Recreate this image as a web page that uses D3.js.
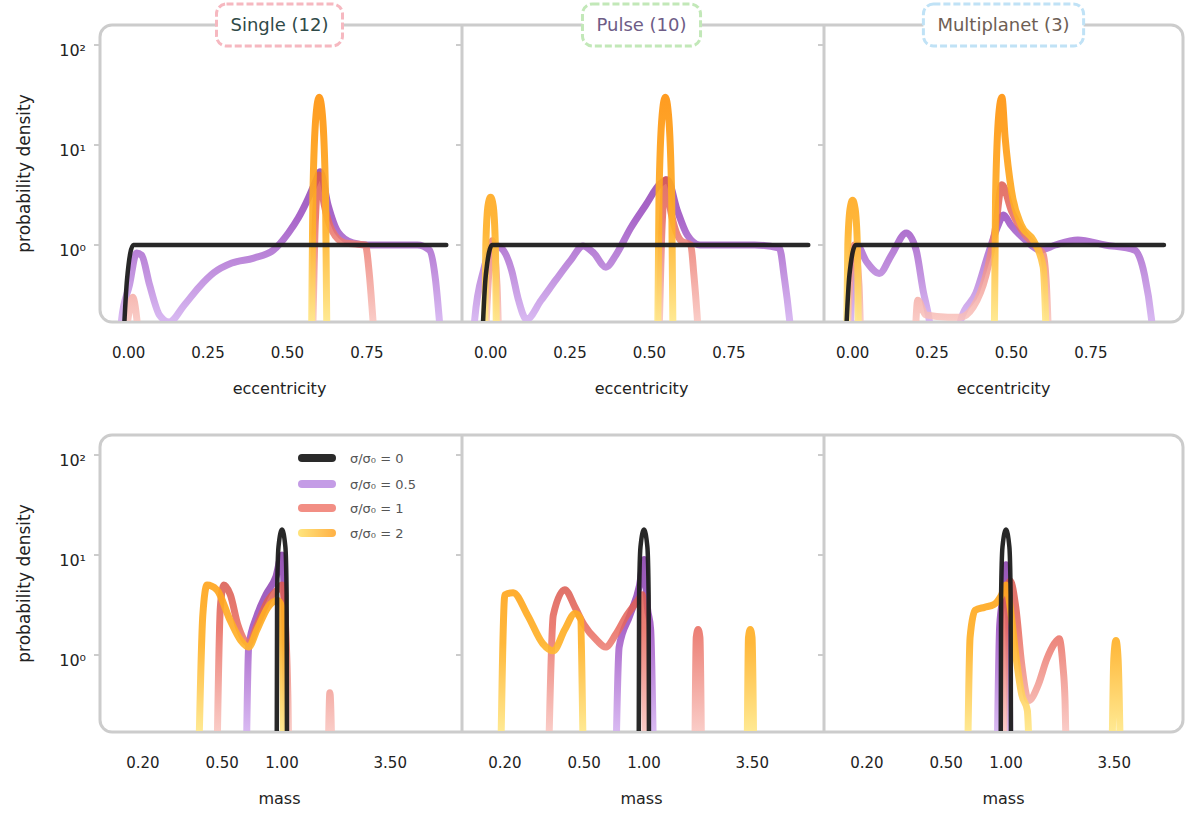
<!DOCTYPE html>
<html><head><meta charset="utf-8">
<script src="https://cdn.jsdelivr.net/npm/d3@7"></script>
<style>body{margin:0;background:#fff} svg{font-family:"DejaVu Sans",sans-serif}</style>
</head><body><svg id="c" width="1200" height="816"></svg>
<script>
// ---------- labels ----------
const panelTitles = ["Single (12)", "Pulse (10)", "Multiplanet (3)"];
const seriesNames = ["σ/σ₀ = 0", "σ/σ₀ = 0.5", "σ/σ₀ = 1", "σ/σ₀ = 2"];
const eccTicks = [0, 0.25, 0.5, 0.75];
const eccTickLabels = ["0.00", "0.25", "0.50", "0.75"];
const ratioTicks = [0.2, 0.5, 1, 3.5];
const ratioTickLabels = ["0.20", "0.50", "1.00", "3.50"];
const densityTicks = [100, 10, 1];
const densityTickLabels = ["10²", "10¹", "10⁰"];
const topXLabel = "eccentricity";
const bottomXLabel = "mass";
const yLabel = "probability density";

// ---------- top row: eccentricity densities [e, density] (0 = none) ----------
const eccSingleBlack  = [[-0.02,0],[-0.005,0.45],[0.015,1],[0.2,1],[0.4,1],[0.6,1],[0.8,1],[1.0,1]];
const eccSinglePurple = [[-0.03,0],[-0.022,0.18],[0.003,0.4],[0.025,0.83],[0.041,0.79],[0.066,0.4],[0.097,0.2],[0.128,0.17],[0.175,0.25],[0.222,0.38],[0.269,0.53],[0.325,0.66],[0.394,0.74],[0.456,0.89],[0.503,1.32],[0.534,1.86],[0.566,2.95],[0.591,4.5],[0.603,5.4],[0.628,2.5],[0.659,1.35],[0.706,1.05],[0.753,1.0],[0.909,1.0],[0.947,0.89],[0.966,0.45],[0.978,0.18],[0.99,0]];
const eccSingleRed    = [[-0.02,0],[0.0,0.2],[0.013,0.3],[0.028,0.16],[0.04,0],[0.575,0],[0.588,1.8],[0.6,5],[0.615,2.6],[0.64,1.4],[0.68,1.05],[0.745,1.0],[0.758,0.5],[0.768,0.2],[0.78,0]];
const eccSingleOrange = [[0.575,0],[0.58,3],[0.59,20],[0.6,30],[0.61,20],[0.62,3],[0.625,0]];

const eccPulseBlack  = [[-0.03,0],[-0.015,0.5],[0.005,1],[0.2,1],[0.4,1],[0.6,1],[0.8,1],[1.0,1]];
const eccPulsePurple = [[-0.06,0],[-0.05,0.18],[-0.022,0.56],[0.009,1.0],[0.034,0.93],[0.066,0.56],[0.088,0.28],[0.113,0.18],[0.159,0.28],[0.206,0.45],[0.253,0.71],[0.291,0.98],[0.325,0.83],[0.363,0.6],[0.394,0.79],[0.441,1.48],[0.488,2.5],[0.534,4.1],[0.556,4.5],[0.588,2.2],[0.619,1.26],[0.659,1.0],[0.831,1.0],[0.909,0.93],[0.925,0.46],[0.941,0.18],[0.955,0]];
const eccPulseRed    = [[-0.02,0],[-0.006,0.5],[0.005,1.1],[0.02,0.4],[0.03,0],[0.525,0],[0.54,1.6],[0.55,4.5],[0.568,2.1],[0.6,1.1],[0.63,1.0],[0.64,0.5],[0.65,0.2],[0.66,0]];
const eccPulseOrange = [[-0.02,0],[-0.015,1],[-0.008,2.5],[0.0,3],[0.008,2.5],[0.015,1],[0.02,0],[0.525,0],[0.53,3],[0.54,20],[0.55,30],[0.56,20],[0.57,3],[0.575,0]];

const eccMultiBlack  = [[-0.025,0],[-0.01,0.5],[0.01,1],[0.2,1],[0.4,1],[0.6,1],[0.8,1],[0.98,1]];
const eccMultiPurple = [[-0.01,0],[0.0,0.5],[0.013,1.0],[0.044,0.68],[0.084,0.52],[0.122,0.79],[0.169,1.32],[0.2,0.89],[0.222,0.35],[0.241,0.18],[0.26,0],[0.32,0],[0.341,0.18],[0.388,0.33],[0.428,0.83],[0.459,1.6],[0.475,2.0],[0.497,1.6],[0.544,1.12],[0.591,0.89],[0.638,1.0],[0.709,1.12],[0.794,1.0],[0.888,0.89],[0.919,0.5],[0.941,0.18],[0.955,0]];
const eccMultiRed    = [[-0.02,0],[-0.006,0.6],[0.005,1],[0.02,0.4],[0.03,0],[0.19,0],[0.205,0.28],[0.23,0.2],[0.3,0.19],[0.34,0.19],[0.38,0.24],[0.42,0.5],[0.45,1.5],[0.47,4],[0.5,2.2],[0.54,1.3],[0.58,0.95],[0.6,0.8],[0.61,0.4],[0.62,0]];
const eccMultiOrange = [[-0.02,0],[-0.015,1],[-0.008,2.3],[0.0,2.8],[0.008,2.3],[0.015,1],[0.02,0],[0.445,0],[0.45,3],[0.46,20],[0.47,30],[0.48,12],[0.5,3.5],[0.53,1.6],[0.57,1.1],[0.6,0.6],[0.612,0]];

// ---------- bottom row: mass densities [m, density] ----------
const ratSingleBlack  = [[0.94,0],[0.945,4],[0.96,12],[1.0,18],[1.04,12],[1.055,4],[1.06,0]];
const ratSinglePurple = [[0.66,0],[0.68,1.2],[0.75,2.5],[0.83,4],[0.93,6],[1.0,10],[1.03,3],[1.06,0]];
const ratSingleRed    = [[0.47,0],[0.49,3],[0.51,5],[0.55,4],[0.6,2],[0.68,1.3],[0.75,2],[0.85,3.5],[0.95,4.5],[1.0,5],[1.03,3],[1.07,0.4],[1.09,0],[1.69,0],[1.74,0.42],[1.79,0]];
const ratSingleOrange = [[0.38,0],[0.4,2.5],[0.42,5],[0.47,4.5],[0.55,2.2],[0.62,1.4],[0.68,1.2],[0.75,1.8],[0.85,3],[0.95,3.5],[1.0,3],[1.02,0]];

const ratPulseBlack  = [[0.94,0],[0.945,4],[0.96,12],[1.0,18],[1.04,12],[1.055,4],[1.06,0]];
const ratPulsePurple = [[0.72,0],[0.75,1.2],[0.85,2.5],[0.95,5],[1.0,9],[1.04,3],[1.08,1.8],[1.12,0]];
const ratPulseRed    = [[0.33,0],[0.35,2.5],[0.4,4.5],[0.45,3],[0.5,2],[0.58,1.4],[0.64,1.2],[0.72,1.6],[0.82,2.5],[0.93,3.5],[0.98,4],[1.0,2],[1.02,0],[1.79,0],[1.83,1.5],[1.87,1.8],[1.91,1.5],[1.95,0]];
const ratPulseOrange = [[0.19,0],[0.2,4],[0.22,4.2],[0.26,2.5],[0.31,1.3],[0.35,1.1],[0.4,1.8],[0.45,2.6],[0.48,2.3],[0.5,0],[3.28,0],[3.35,1.5],[3.42,1.8],[3.49,1.5],[3.57,0]];

const ratMultiBlack  = [[0.94,0],[0.945,4],[0.96,12],[1.0,18],[1.04,12],[1.055,4],[1.06,0]];
const ratMultiPurple = [[0.9,0],[0.93,2],[0.97,4],[1.0,8],[1.03,3],[1.05,0]];
const ratMultiRed    = [[0.97,0],[0.99,3],[1.05,5.5],[1.12,3],[1.2,0.8],[1.3,0.35],[1.45,0.5],[1.6,0.9],[1.75,1.3],[1.85,1.45],[1.93,0.8],[1.98,0.35],[2.02,0]];
const ratMultiOrange = [[0.64,0],[0.66,1.5],[0.7,2.8],[0.78,3],[0.87,3.2],[0.95,4],[1.0,5],[1.05,3],[1.12,1],[1.2,0.4],[1.28,0.28],[1.33,0],[3.38,0],[3.48,0.9],[3.57,1.4],[3.66,0.9],[3.77,0]];

const topData = [
  [eccSinglePurple, eccSingleRed, eccSingleOrange, eccSingleBlack],
  [eccPulsePurple, eccPulseRed, eccPulseOrange, eccPulseBlack],
  [eccMultiPurple, eccMultiRed, eccMultiOrange, eccMultiBlack]];
const bottomData = [
  [ratSinglePurple, ratSingleRed, ratSingleOrange, ratSingleBlack],
  [ratPulsePurple, ratPulseRed, ratPulseOrange, ratPulseBlack],
  [ratMultiPurple, ratMultiRed, ratMultiOrange, ratMultiBlack]];

// ---------- layout / style ----------
const svg = d3.select("#c");
const defs = svg.append("defs");
const panelLefts = [100, 462, 824], panelW = 359;
const rows = [{top:25, bottom:322}, {top:435, bottom:732}];
const frameColor = "#cccccc";
const floorV = 0.06;
const seriesStyle = [
  {key:"purple", stops:[["0","#d2aef0"],["0.35","#9a4cc0"],["1","#5e1a7e"]], width:7, op:0.85},
  {key:"red", stops:[["0","#f9c4be"],["0.35","#e8685c"],["1","#a8201a"]], width:7, op:0.85},
  {key:"orange", stops:[["0","#ffe88a"],["0.3","#ffb22a"],["1","#ff8400"]], width:7, op:0.92},
  {key:"black", stops:null, color:"#1c1c1c", width:4.5, op:0.95}
];
const titleStyle = [
  {stroke:"#f6b8c0", fill:"#2f4a48"},
  {stroke:"#c2e8b8", fill:"#6e5c86"},
  {stroke:"#c0e2f6", fill:"#6e5e54"}];

rows.forEach((r, ri) => {
  seriesStyle.forEach(s => {
    if (!s.stops) return;
    const g = defs.append("linearGradient").attr("id", `g-${s.key}-${ri}`)
      .attr("gradientUnits","userSpaceOnUse").attr("x1",0).attr("x2",0)
      .attr("y1", r.bottom).attr("y2", r.top);
    s.stops.forEach(st => g.append("stop").attr("offset", st[0]).attr("stop-color", st[1]));
  });
});

const yScales = rows.map(r => d3.scaleLog().domain([Math.pow(10,-0.77), Math.pow(10,2.2)]).range([r.bottom, r.top]));

rows.forEach((r, ri) => {
  const y = yScales[ri];
  svg.append("rect").attr("x", 100).attr("y", r.top).attr("width", 1083).attr("height", r.bottom - r.top)
    .attr("rx", 12).attr("fill", "none").attr("stroke", frameColor).attr("stroke-width", 3);
  panelLefts.slice(1).forEach(px => svg.append("line").attr("x1", px).attr("x2", px)
    .attr("y1", r.top).attr("y2", r.bottom).attr("stroke", frameColor).attr("stroke-width", 3));

  panelLefts.forEach((left, pi) => {
    const x = ri === 0
      ? d3.scaleLinear().domain([-0.09, 1.04]).range([left, left + panelW])
      : d3.scaleLog().domain([Math.pow(10, -182/199), Math.pow(10, 177/199)]).range([left, left + panelW]);
    const clipId = `clip-${ri}-${pi}`;
    defs.append("clipPath").attr("id", clipId).append("rect")
      .attr("x", left + 2).attr("y", r.top + 2).attr("width", panelW - 3).attr("height", r.bottom - r.top - 3);

    densityTicks.forEach((t, ti) => {
      svg.append("line").attr("x1", left - 6).attr("x2", left).attr("y1", y(t)).attr("y2", y(t))
        .attr("stroke", frameColor).attr("stroke-width", 2);
      if (pi === 0) svg.append("text").attr("x", left - 14).attr("y", y(t) + 11)
        .attr("text-anchor", "end").attr("font-size", 16).attr("fill", "#222").text(densityTickLabels[ti]);
    });

    const data = ri === 0 ? topData[pi] : bottomData[pi];
    const line = d3.line().x(d => x(d[0])).y(d => y(d[1] > 0 ? d[1] : floorV)).curve(d3.curveMonotoneX);
    const g = svg.append("g").attr("clip-path", `url(#${clipId})`);
    data.forEach((arr, si) => {
      const s = seriesStyle[si];
      g.append("path").attr("d", line(arr)).attr("fill", "none")
        .attr("stroke", s.stops ? `url(#g-${s.key}-${ri})` : s.color)
        .attr("stroke-width", s.width).attr("stroke-opacity", s.op)
        .attr("stroke-linejoin", "round").attr("stroke-linecap", "round");
    });

    const ticks = ri === 0 ? eccTicks : ratioTicks;
    const tlabels = ri === 0 ? eccTickLabels : ratioTickLabels;
    ticks.forEach((t, ti) => svg.append("text").attr("x", x(t)).attr("y", r.bottom + 36)
      .attr("text-anchor", "middle").attr("font-size", 15).attr("fill", "#222").text(tlabels[ti]));
    svg.append("text").attr("x", left + panelW/2).attr("y", r.bottom + 72)
      .attr("text-anchor", "middle").attr("font-size", 16).attr("fill", "#222")
      .text(ri === 0 ? topXLabel : bottomXLabel);
  });

  svg.append("text").attr("transform", `translate(30,${(r.top + r.bottom)/2}) rotate(-90)`)
    .attr("text-anchor", "middle").attr("font-size", 17).attr("fill", "#222").text(yLabel);
});

// titles
panelLefts.forEach((left, pi) => {
  const cx = left + panelW/2;
  const g = svg.append("g");
  const box = g.append("rect");
  const t = g.append("text").attr("x", cx).attr("y", 31).attr("text-anchor", "middle")
    .attr("font-size", 18).attr("fill", titleStyle[pi].fill).text(panelTitles[pi]);
  const w = t.node().getComputedTextLength();
  box.attr("x", cx - w/2 - 14).attr("y", 4).attr("width", w + 28).attr("height", 42).attr("rx", 10)
    .attr("fill", "#fff").attr("stroke", titleStyle[pi].stroke).attr("stroke-width", 3)
    .attr("stroke-dasharray", "7,3");
});

// legend (bottom-left panel)
const lg = defs.append("linearGradient").attr("id", "legOrange").attr("gradientUnits", "userSpaceOnUse")
  .attr("x1", 300).attr("x2", 334).attr("y1", 0).attr("y2", 0);
lg.append("stop").attr("offset", "0").attr("stop-color", "#ffe27a");
lg.append("stop").attr("offset", "1").attr("stop-color", "#ffb347");
const legendColors = ["#2a2a2a", "#c49ce6", "#f28e84", "url(#legOrange)"];
const legendY = [458, 484, 508, 533];
seriesNames.forEach((nm, i) => {
  svg.append("line").attr("x1", 302).attr("x2", 332).attr("y1", legendY[i]).attr("y2", legendY[i])
    .attr("stroke", legendColors[i]).attr("stroke-width", 8).attr("stroke-linecap", "round");
  svg.append("text").attr("x", 350).attr("y", legendY[i] + 5).attr("font-size", 13)
    .attr("fill", "#555").text(nm);
});
</script></body></html>
